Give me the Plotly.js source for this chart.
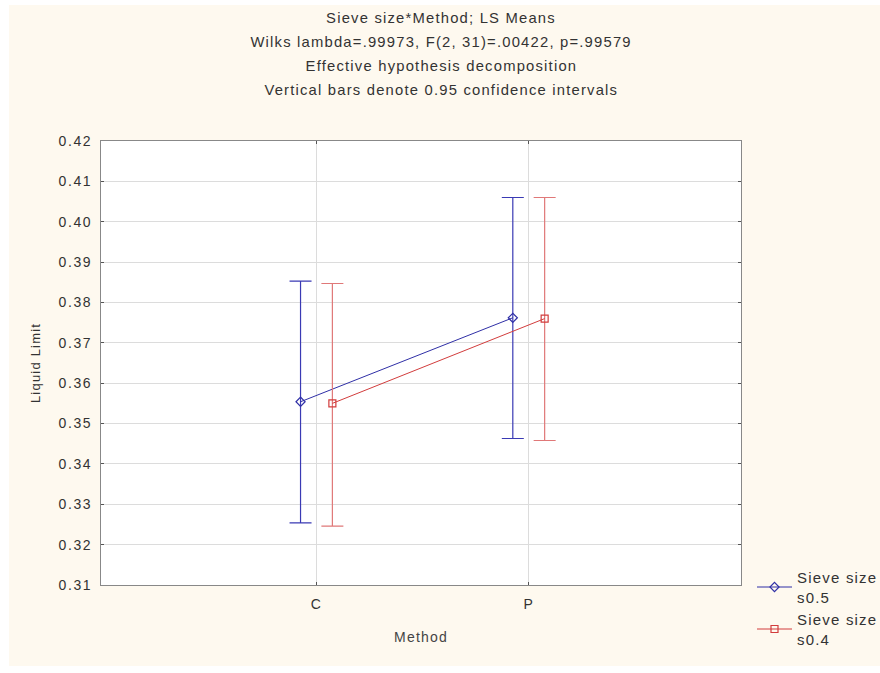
<!DOCTYPE html>
<html>
<head>
<meta charset="utf-8">
<script src="https://cdn.plot.ly/plotly-3.0.1.min.js"></script>
<style>
html,body{margin:0;padding:0;background:#fff;}
#chart{width:880px;height:673px;}
#chart text{letter-spacing:1.2px;}
#chart .ytick text{letter-spacing:1.6px;}
#chart .legend .scrollbox{clip-path:none !important;}
</style>
</head>
<body>
<div id="chart"></div>
<script>
// ---- data ----
const categories = ['C', 'P'];
const seriesNames = ['Sieve size<br>s0.5', 'Sieve size<br>s0.4'];
const means_s05 = [0.3554, 0.3762];
const upper_s05 = [0.3853, 0.4060];
const lower_s05 = [0.3254, 0.3463];
const means_s04 = [0.3550, 0.3760];
const upper_s04 = [0.3847, 0.4060];
const lower_s04 = [0.3246, 0.3458];
const yTicks = [0.31, 0.32, 0.33, 0.34, 0.35, 0.36, 0.37, 0.38, 0.39, 0.40, 0.41, 0.42];
const titleLines = [
  'Sieve size*Method; LS Means',
  'Wilks lambda=.99973, F(2, 31)=.00422, p=.99579',
  'Effective hypothesis decomposition',
  'Vertical bars denote 0.95 confidence intervals'
];

const offset = 0.075;
const idx = categories.map((c, i) => i);

function mk(name, means, up, lo, shift, color, barColor, symbol) {
  return {
    type: 'scatter',
    mode: 'lines+markers',
    name: name,
    x: idx.map(i => i + shift),
    y: means,
    line: {color: color, width: 1},
    marker: {symbol: symbol, size: 7, color: color, line: {color: color, width: 1.2}},
    error_y: {
      type: 'data', symmetric: false,
      array: up.map((u, i) => u - means[i]),
      arrayminus: lo.map((l, i) => means[i] - l),
      color: barColor, thickness: 1.2, width: 11
    }
  };
}

const traces = [
  mk(seriesNames[0], means_s05, upper_s05, lower_s05, -offset, '#2f2fa6', '#3a3ab4', 'diamond-open'),
  mk(seriesNames[1], means_s04, upper_s04, lower_s04, offset, '#d23c3c', '#e07878', 'square-open')
];

const W = 880, H = 673, L = 101, R = 139, T = 141, B = 88;
const pw = W - L - R, ph = H - T - B;
const px = v => (v - L) / pw;
const py = v => (H - B - v) / ph;

const fontFam = '"Liberation Sans", Arial, sans-serif';
const annotations = titleLines.slice(1).map((t, i) => ({
  text: t, xref: 'paper', yref: 'paper', x: px(441), y: py(42 + 24 * i),
  xanchor: 'center', yanchor: 'middle', showarrow: false,
  font: {family: fontFam, size: 14.8, color: '#333'}
}));

const layout = {
  width: W, height: H,
  margin: {l: L, r: R, t: T, b: B, autoexpand: false},
  paper_bgcolor: '#fef9ef',
  plot_bgcolor: '#ffffff',
  font: {family: fontFam, color: '#333'},
  title: {
    text: titleLines[0], xref: 'paper', x: px(441), xanchor: 'center',
    yref: 'container', y: 1 - 18 / H, yanchor: 'middle',
    font: {family: fontFam, size: 14.8, color: '#333'}
  },
  annotations: annotations,
  xaxis: {
    range: [-1.015, 2.0],
    tickvals: idx, ticktext: categories,
    showgrid: true, gridcolor: '#dcdcdc', gridwidth: 1,
    zeroline: false, showline: true, linecolor: '#888', linewidth: 1, mirror: 'ticks',
    ticks: 'inside', ticklen: 3, tickcolor: '#555',
    ticklabelstandoff: 6,
    tickfont: {size: 14, color: '#333'},
    title: {text: 'Method', font: {size: 14, color: '#444'}, standoff: 21}
  },
  yaxis: {
    range: [0.31, 0.42],
    tickvals: yTicks, tickformat: '.2f',
    showgrid: true, gridcolor: '#dcdcdc', gridwidth: 1,
    zeroline: false, showline: true, linecolor: '#888', linewidth: 1, mirror: 'ticks',
    ticks: 'inside', ticklen: 3, tickcolor: '#555',
    ticklabelstandoff: 5,
    tickfont: {size: 14, color: '#333'},
    title: {text: 'Liquid Limit', font: {size: 13, color: '#333'}, standoff: 21}
  },
  legend: {
    x: px(752), y: py(561), xanchor: 'left', yanchor: 'top',
    bgcolor: 'rgba(0,0,0,0)', font: {size: 15, color: '#333'},
    tracegroupgap: 2, itemwidth: 35
  },
  showlegend: true,
  shapes: [
    {type: 'rect', xref: 'paper', yref: 'paper', x0: px(0), x1: px(W), y0: py(0), y1: py(5), fillcolor: '#fff', line: {width: 0}, layer: 'below'},
    {type: 'rect', xref: 'paper', yref: 'paper', x0: px(0), x1: px(9), y0: py(0), y1: py(H), fillcolor: '#fff', line: {width: 0}, layer: 'below'},
    {type: 'rect', xref: 'paper', yref: 'paper', x0: px(0), x1: px(W), y0: py(666), y1: py(H), fillcolor: '#fff', line: {width: 0}, layer: 'below'}
  ]
};

Plotly.newPlot('chart', traces, layout, {displayModeBar: false, staticPlot: true});
</script>
</body>
</html>
